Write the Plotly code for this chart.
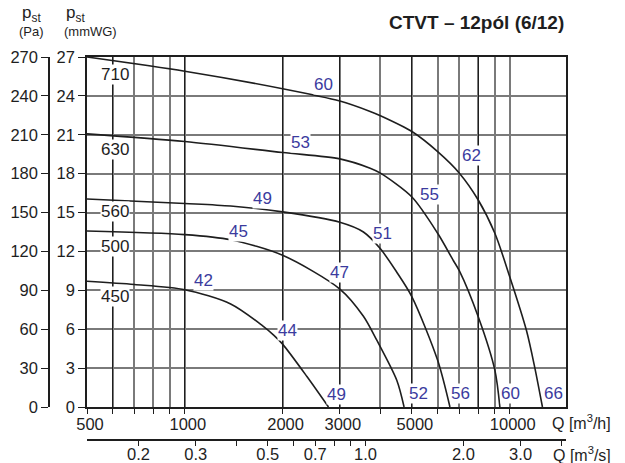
import math
import plotly.graph_objects as go

# ---------------- data ----------------
# fan curves: airflow Q [m3/h] and static pressure p_st [Pa]
q_450 = [500, 700, 1000, 1384, 1729, 1877, 2000, 2376, 2768]
p_450 = [97, 94.5, 90.5, 79.5, 63, 55.5, 48.5, 23.5, 0]

q_500 = [500, 1000, 1384, 2000, 3000, 3546, 3898, 4491, 4730]
p_500 = [135.8, 133, 129, 117, 91, 70, 51.5, 20.6, 0]

q_560 = [500, 1000, 1384, 2000, 3000, 3546, 4000, 4491, 5000, 6000, 6546]
p_560 = [160.5, 157, 155, 150.5, 142.5, 135, 122, 104, 85, 36, 0]

q_630 = [500, 1000, 2000, 3000, 3719, 4000, 5000, 6000, 6705, 7000, 8000, 9000, 9325]
p_630 = [210.7, 204.8, 196.3, 191.4, 184.2, 180.4, 162, 134, 113, 105, 69.6, 28.4, 0]

q_710 = [500, 1000, 2000, 3000, 3719, 4000, 5000, 6000, 7000, 8000, 9000, 10000, 11260, 11930, 12610]
p_710 = [270, 259, 245.5, 236, 228, 224.7, 212.5, 197, 180.4, 159.7, 134, 100.5, 59, 31, 0]

curves = [(q_450, p_450), (q_500, p_500), (q_560, p_560), (q_630, p_630), (q_710, p_710)]

# fan size labels
size_text = ["450", "500", "560", "630", "710"]
size_q = [610, 610, 610, 610, 610]
size_p = [85.5, 123.6, 150.7, 199, 256.3]

# noise level labels [dB(A)]
noise_text = ["60", "53", "49", "45", "42", "44", "47", "49", "51", "55", "62", "52", "56", "60", "66"]
noise_q = [2673, 2266, 1729, 1465, 1144, 2075, 2990, 2928, 4071, 5672, 7632, 5233, 7068, 10064, 13640]
noise_p = [248.6, 204, 161, 135.2, 97.9, 59.3, 103.7, 9.7, 134, 163.6, 193.7, 10.4, 10.4, 10.4, 10.4]

# axes
q_min, q_max = 500, 14900
p_min, p_max = 0, 270
grid_q = [500, 600, 700, 800, 900, 1000, 2000, 3000, 4000, 5000, 6000, 7000, 8000, 9000, 10000]
label_q = [500, 1000, 2000, 3000, 5000, 10000]
dark_grid_q = [600, 1000, 2000, 3000, 5000, 8000]
mmwg_ticks = [0, 3, 6, 9, 12, 15, 18, 21, 24, 27]
pa_ticks = [0, 30, 60, 90, 120, 150, 180, 210, 240, 270]
PA_PER_MMWG = 10
qs_ticks = [0.2, 0.3, 0.4, 0.5, 0.6, 0.7, 0.8, 0.9, 1.0, 2.0, 3.0, 4.0]
qs_labels = {0.2: "0.2", 0.3: "0.3", 0.5: "0.5", 0.7: "0.7", 1.0: "1.0", 2.0: "2.0", 3.0: "3.0"}
S_PER_H = 3600

# ---------------- layout geometry (screen pixels; page body margin removed below) ----------------
W, H = 625, 463
pa_axis_px, plot_left_px, plot_right_px = 49, 87, 566
plot_top_px, plot_bottom_px, qs_axis_px = 57, 407, 440
ML = pa_axis_px
MR = W - plot_right_px
MT = plot_top_px
MB = H - qs_axis_px
PW, PH = W - ML - MR, H - MT - MB


def px_x(px):
    return (px - ML) / PW


def px_y(py):
    return (H - MB - py) / PH


FONT = "Liberation Sans, Arial, Helvetica, sans-serif"
INK = "#1e1e1e"
BLUE = "#3b3b9e"
GRID = "#7a7a7a"

fig = go.Figure()
for q, p in curves:
    fig.add_trace(go.Scatter(x=q, y=p, xaxis="x", yaxis="y", mode="lines",
                             line=dict(color=INK, width=1.6, shape="spline", smoothing=0.8),
                             hoverinfo="skip", showlegend=False))

# invisible helpers so that the secondary axes (Pa, m3/s, dark grid) are drawn
fig.add_trace(go.Scatter(x=[q_min / S_PER_H, q_max / S_PER_H], y=[p_min, p_max], xaxis="x2", yaxis="y2",
                         mode="markers", marker=dict(opacity=0), hoverinfo="skip", showlegend=False))
fig.add_trace(go.Scatter(x=[q_min, q_max], y=[p_min, p_max], xaxis="x3", yaxis="y",
                         mode="markers", marker=dict(opacity=0), hoverinfo="skip", showlegend=False))

annotations = []
for t, q, p in zip(size_text, size_q, size_p):
    annotations.append(dict(x=math.log10(q), y=p, xref="x", yref="y", text=t, showarrow=False,
                            font=dict(family=FONT, size=17, color=INK), bgcolor="white", borderpad=0))
for t, q, p in zip(noise_text, noise_q, noise_p):
    annotations.append(dict(x=math.log10(q), y=p, xref="x", yref="y", text=t, showarrow=False,
                            font=dict(family=FONT, size=17, color=BLUE), bgcolor="white", borderpad=0))

annotations += [
    dict(x=px_x(566), y=px_y(22), xref="paper", yref="paper", text="<b>CTVT – 12pól (6/12)</b>",
         showarrow=False, xanchor="right", yanchor="middle", font=dict(family=FONT, size=19, color=INK)),
    dict(x=px_x(31), y=px_y(14), xref="paper", yref="paper", text="p<sub>st</sub>",
         showarrow=False, xanchor="center", yanchor="middle", font=dict(family=FONT, size=17, color=INK)),
    dict(x=px_x(31), y=px_y(31), xref="paper", yref="paper", text="(Pa)",
         showarrow=False, xanchor="center", yanchor="middle", font=dict(family=FONT, size=13, color=INK)),
    dict(x=px_x(64), y=px_y(14), xref="paper", yref="paper", text="p<sub>st</sub>",
         showarrow=False, xanchor="left", yanchor="middle", font=dict(family=FONT, size=17, color=INK)),
    dict(x=px_x(62), y=px_y(31), xref="paper", yref="paper", text="(mmWG)",
         showarrow=False, xanchor="left", yanchor="middle", font=dict(family=FONT, size=13, color=INK)),
    dict(x=px_x(550), y=px_y(422), xref="paper", yref="paper", text="Q [m<sup>3</sup>/h]",
         showarrow=False, xanchor="left", yanchor="middle", font=dict(family=FONT, size=16, color=INK)),
    dict(x=px_x(551), y=px_y(454), xref="paper", yref="paper", text="Q [m<sup>3</sup>/s]",
         showarrow=False, xanchor="left", yanchor="middle", font=dict(family=FONT, size=16, color=INK)),
]

xdom = [px_x(plot_left_px), 1]
ydom = [px_y(plot_bottom_px), 1]
tickfont = dict(family=FONT, size=16.5, color=INK)
xr = [math.log10(q_min), math.log10(q_max)]

fig.update_layout(
    width=W, height=H, autosize=False,
    margin=dict(l=ML, r=MR, t=MT, b=MB, pad=0, autoexpand=False),
    paper_bgcolor="white", plot_bgcolor="white",
    showlegend=False, hovermode=False,
    annotations=annotations,
    xaxis=dict(type="log", range=xr, domain=xdom, anchor="y", automargin=False,
               tickmode="array", tickvals=grid_q,
               ticktext=[str(v) if v in label_q else "" for v in grid_q],
               ticks="outside", ticklen=5, tickwidth=1.2, tickcolor=INK,
               ticklabelshift=3, ticklabelstandoff=-4,
               showgrid=True, gridcolor=GRID, gridwidth=1.5,
               showline=True, linecolor=INK, linewidth=1.5, mirror=True, zeroline=False,
               tickfont=tickfont),
    xaxis3=dict(type="log", range=xr, overlaying="x", anchor="y", automargin=False,
                tickmode="array", tickvals=dark_grid_q, showticklabels=False, ticks="",
                showgrid=True, gridcolor=INK, gridwidth=1.3, showline=False, zeroline=False),
    xaxis2=dict(type="log", range=[math.log10(q_min / S_PER_H), math.log10(q_max / S_PER_H)],
                overlaying="x", anchor="free", position=0, side="bottom", automargin=False,
                tickmode="array", tickvals=qs_ticks, ticktext=[qs_labels.get(v, "") for v in qs_ticks],
                ticks="outside", ticklen=5, tickwidth=1.2, tickcolor=INK, ticklabelstandoff=-6,
                showgrid=False, showline=True, linecolor=INK, linewidth=1.5, zeroline=False,
                tickfont=tickfont),
    yaxis=dict(range=[p_min, p_max], domain=ydom, anchor="x", automargin=False, tickmode="array",
               tickvals=[m * PA_PER_MMWG for m in mmwg_ticks], ticktext=[str(m) for m in mmwg_ticks],
               ticks="outside", ticklen=7, tickwidth=1.2, tickcolor=INK,
               showgrid=True, gridcolor=GRID, gridwidth=1.5,
               showline=True, linecolor=INK, linewidth=1.5, mirror=True, zeroline=False,
               tickfont=tickfont),
    yaxis2=dict(range=[p_min, p_max], overlaying="y", anchor="free", position=0, side="left",
                automargin=False, tickmode="array", tickvals=pa_ticks,
                ticks="outside", ticklen=7, tickwidth=1.2, tickcolor=INK,
                showgrid=False, showline=True, linecolor=INK, linewidth=1.5, zeroline=False,
                tickfont=tickfont),
)

fig.write_html("out.html", config={"displayModeBar": False},
               post_script="document.body.style.margin='0px';")
